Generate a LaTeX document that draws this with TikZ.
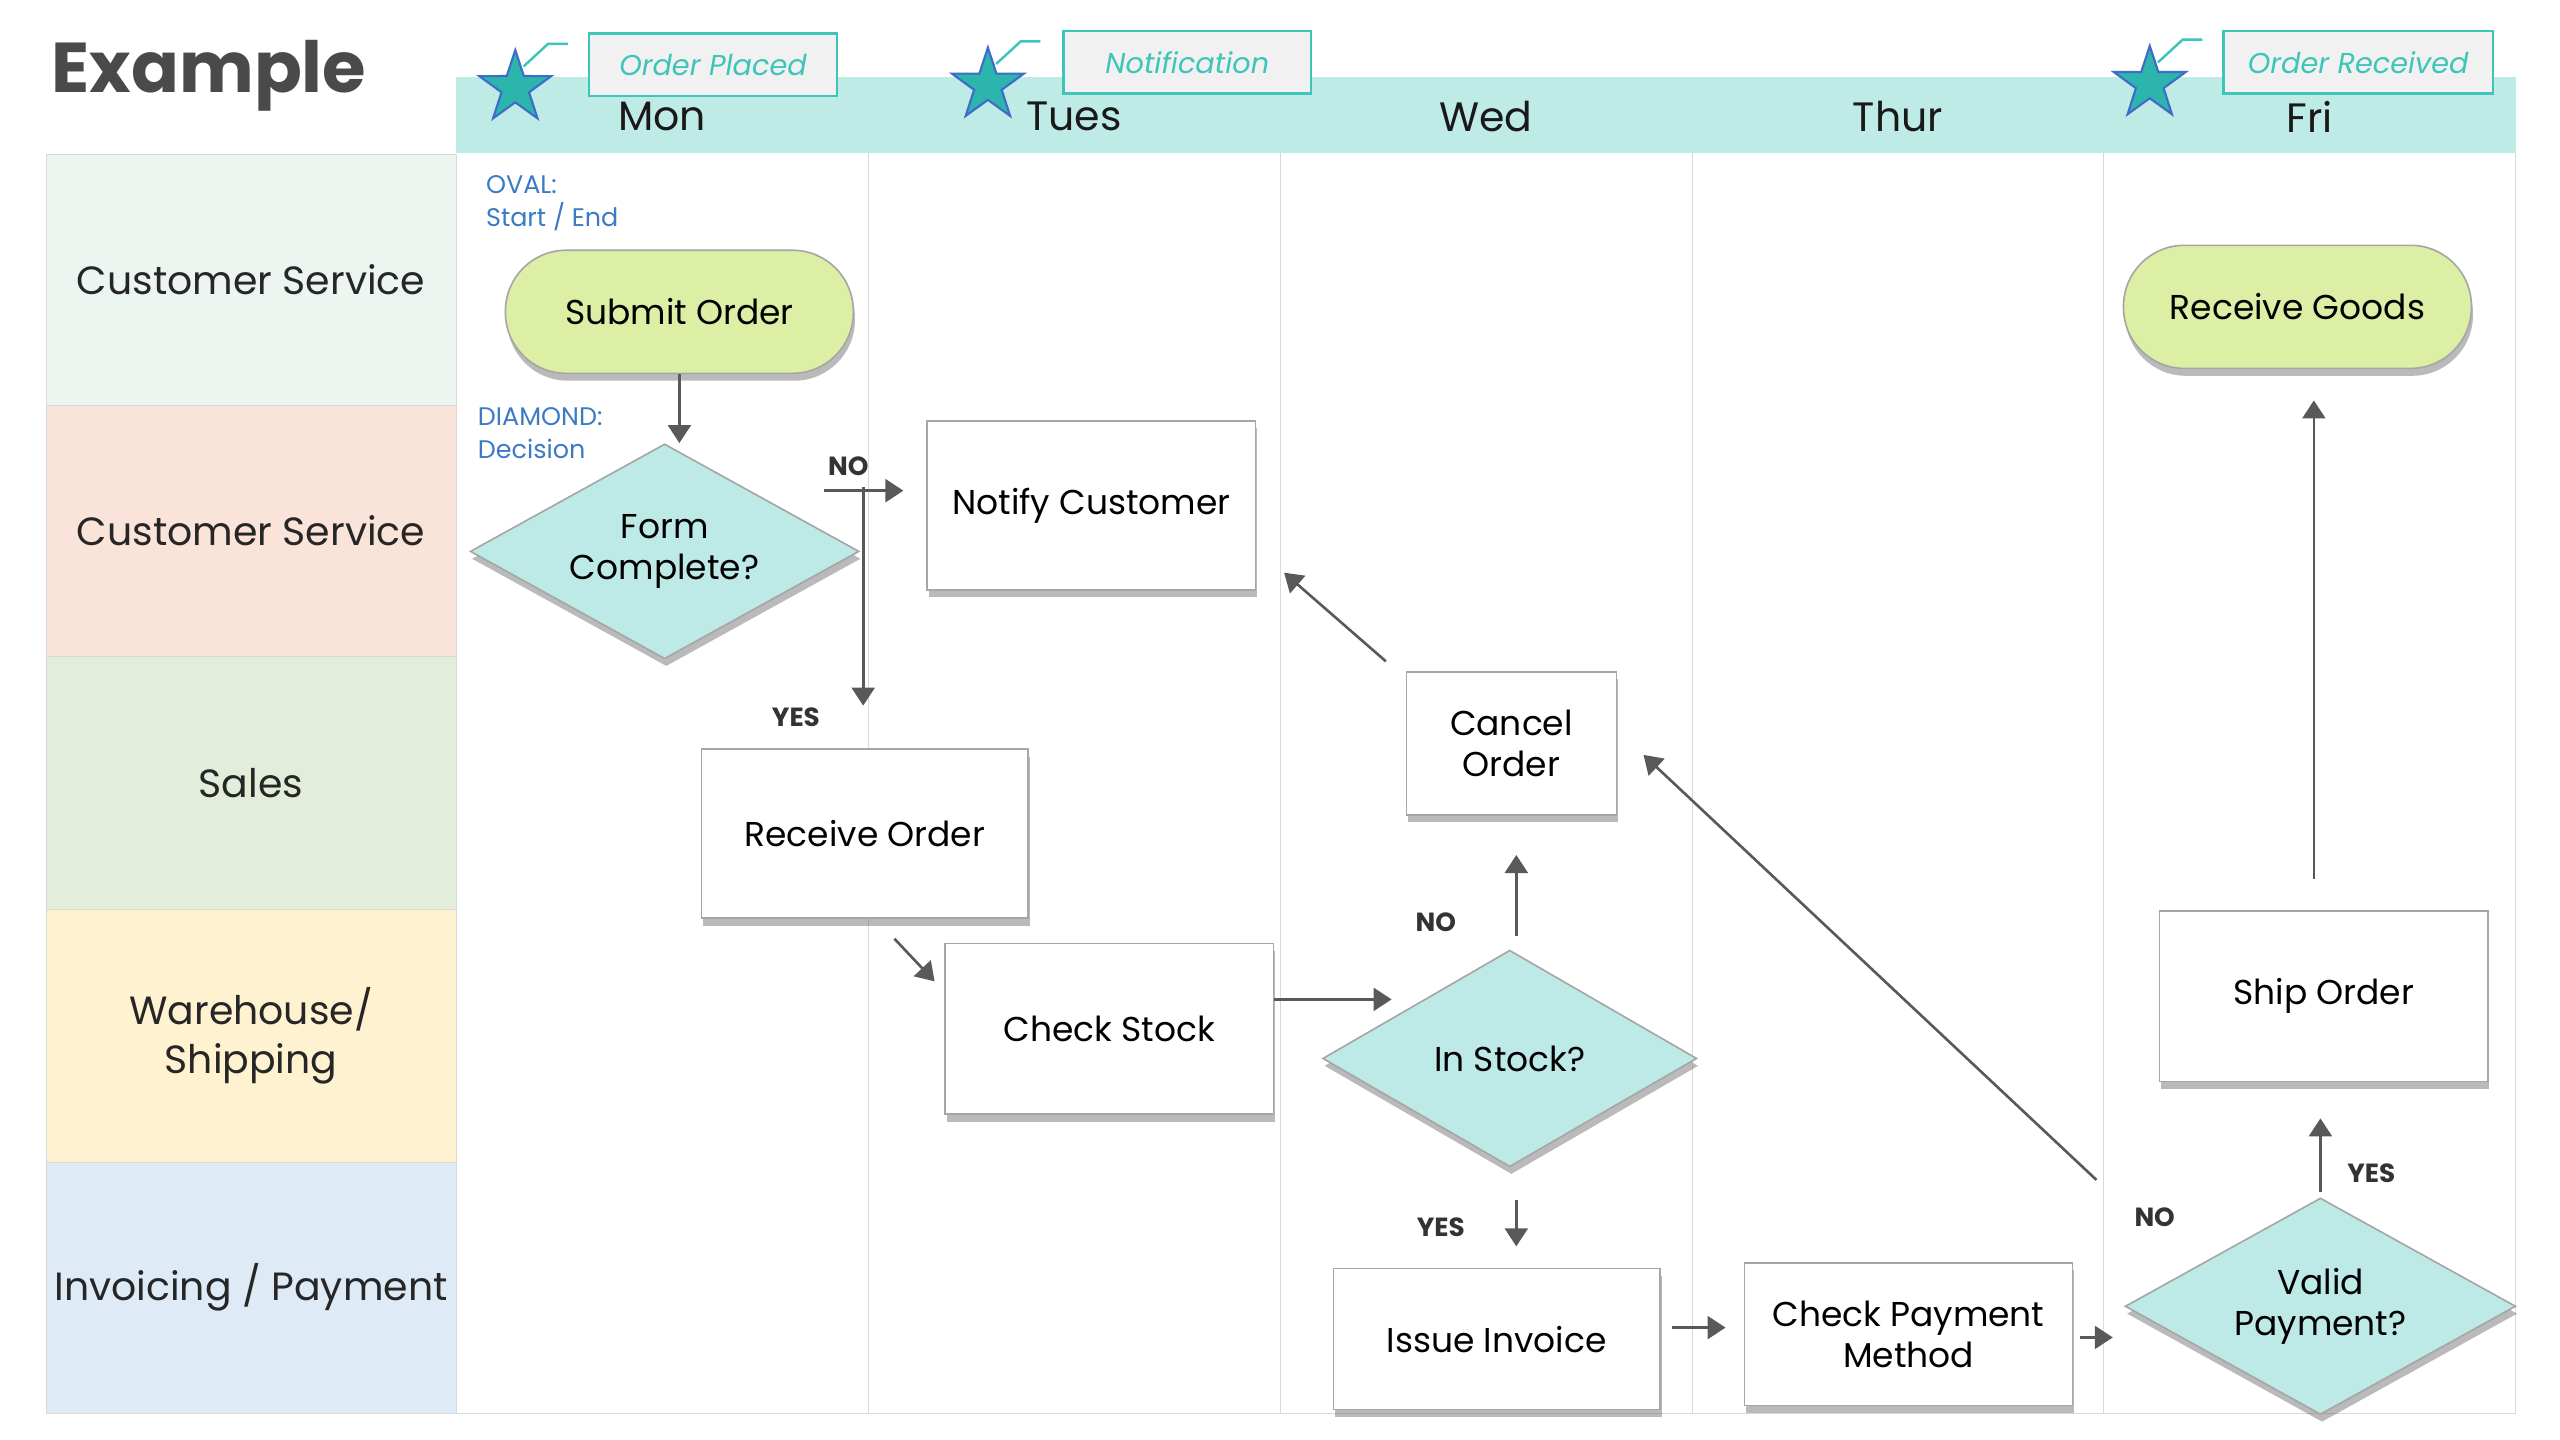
\documentclass[tikz,border=0pt]{standalone}
\usepackage{fontspec}
\setmainfont{Poppins}
\usetikzlibrary{shapes.geometric,arrows.meta,shadows}
\definecolor{headteal}{HTML}{BFEBE7}
\definecolor{laneA}{HTML}{EDF5F1}
\definecolor{laneB}{HTML}{FAE3D8}
\definecolor{laneC}{HTML}{E2EED9}
\definecolor{laneD}{HTML}{FEF2D0}
\definecolor{laneE}{HTML}{DEEAF5}
\definecolor{ovalgreen}{HTML}{DCEFA5}
\definecolor{diateal}{HTML}{BDEAE6}
\definecolor{arrowgray}{HTML}{595959}
\definecolor{noteblue}{HTML}{3B7BC4}
\definecolor{tagteal}{HTML}{3EC5BA}
\definecolor{taggray}{HTML}{F1F1F1}
\definecolor{starteal}{HTML}{2BB5AC}
\definecolor{starblue}{HTML}{3F6CC9}
\definecolor{titlegray}{HTML}{4A4A4A}

\begin{document}
\begin{tikzpicture}[x=1pt,y=-1pt,
  flowbox/.style={draw=black!35,line width=1pt,fill=white,minimum width=200pt,minimum height=103pt,
    inner sep=2pt,align=center,font=\fontsize{21}{25}\selectfont,
    drop shadow={shadow xshift=1pt,shadow yshift=-4.5pt,opacity=.45,fill=black!60}},
  oval/.style={flowbox,fill=ovalgreen,rounded corners=37pt,minimum width=212pt,minimum height=75pt},
  decision/.style={diamond,aspect=1.8,draw=black!35,line width=1pt,fill=diateal,inner sep=0pt,
    minimum width=237pt,minimum height=131pt,align=center,font=\fontsize{21}{25}\selectfont,
    drop shadow={shadow xshift=1pt,shadow yshift=-4.5pt,opacity=.45,fill=black!60}},
  lanelabel/.style={font=\fontsize{24}{30}\selectfont,align=center,text=black!85},
  daylabel/.style={font=\fontsize{25}{30}\selectfont,text=black!90},
  note/.style={font=\fontsize{15.5}{20}\selectfont,text=noteblue,align=left,anchor=north west,inner sep=0pt},
  answer/.style={font=\fontsize{16}{18}\selectfont\bfseries,text=black!80},
  tag/.style={draw=tagteal,line width=1.5pt,fill=taggray,minimum width=151pt,minimum height=38pt,
    font=\fontsize{17.5}{20}\selectfont\itshape,text=tagteal},
  starmark/.style={star,star points=5,star point ratio=2.6,minimum size=46pt,inner sep=0pt,
    fill=starteal,draw=starblue,line width=1.3pt},
  tagline/.style={draw=tagteal,line width=1.5pt},
  arr/.style={draw=arrowgray,line width=1.6pt,-{Triangle[length=11pt,width=14pt]}}]
\useasboundingbox (0,0) rectangle (1560,877.5);

% 标题
\node[font=\fontsize{43}{50}\selectfont\bfseries,text=titlegray,anchor=west] (title) at (28,46) {Example};

% 泳道标签
\draw[draw=black!15,fill=laneA] (28,94) rectangle (278,247);
\draw[draw=black!15,fill=laneB] (28,247) rectangle (278,400);
\draw[draw=black!15,fill=laneC] (28,400) rectangle (278,554);
\draw[draw=black!15,fill=laneD] (28,554) rectangle (278,708);
\draw[draw=black!15,fill=laneE] (28,708) rectangle (278,861);
\node[lanelabel] (laneCS) at (153,170.5) {Customer Service};
\node[lanelabel] (laneCSb) at (153,323.5) {Customer Service};
\node[lanelabel] (laneSales) at (153,477) {Sales};
\node[lanelabel] (laneWH) at (153,631) {Warehouse/\\Shipping};
\node[lanelabel] (laneInv) at (153,784.5) {Invoicing / Payment};

% 表头与日期列
\fill[headteal] (278,47) rectangle (1533,93.5);
\draw[black!15] (529,93.5) -- (529,861);
\draw[black!15] (780,93.5) -- (780,861);
\draw[black!15] (1031,93.5) -- (1031,861);
\draw[black!15] (1282,93.5) -- (1282,861);
\draw[black!15] (1533,93.5) -- (1533,861);
\draw[black!15] (28,861) -- (1533,861);
\node[daylabel] (mon) at (403.5,71) {Mon};
\node[daylabel] (tues) at (654.5,71) {Tues};
\node[daylabel] (wed) at (905.5,71) {Wed};
\node[daylabel] (thur) at (1156.5,71) {Thur};
\node[daylabel] (fri) at (1407.5,71) {Fri};

% 星形标记与说明框
\node[starmark] (starMon) at (314,53.5) {};
\draw[tagline] ([xshift=5pt,yshift=13pt]starMon.center) -- ++(15,-13.8) -- ++(12,0);
\node[tag] (tagMon) at (434.5,39.5) {Order Placed};
\node[starmark] (starTues) at (602,52) {};
\draw[tagline] ([xshift=5pt,yshift=13pt]starTues.center) -- ++(15,-13.8) -- ++(12,0);
\node[tag] (tagTues) at (723.5,38) {Notification};
\node[starmark] (starFri) at (1310,51) {};
\draw[tagline] ([xshift=5pt,yshift=13pt]starFri.center) -- ++(15,-13.8) -- ++(12,0);
\node[tag,minimum width=164pt] (tagFri) at (1437,38) {Order Received};

% 图例说明
\node[note] (noteOval) at (296,107) {OVAL:\\Start / End};
\node[note] (noteDiamond) at (291,248) {DIAMOND:\\Decision};

% 流程节点
\node[oval] (submit) at (414,190) {Submit Order};
\node[decision] (form) at (405,336) {Form\\Complete?};
\node[flowbox] (notify) at (665,308) {Notify Customer};
\node[flowbox,minimum width=199pt] (receive) at (527,508) {Receive Order};
\node[flowbox,minimum height=104pt] (check) at (676,627) {Check Stock};
\node[decision,minimum width=228pt,minimum height=132pt] (instock) at (920,645) {In Stock?};
\node[flowbox,minimum width=128pt,minimum height=87pt] (cancel) at (921,453) {Cancel\\Order};
\node[flowbox,minimum width=199pt,minimum height=86pt] (issue) at (912,816) {Issue Invoice};
\node[flowbox,minimum height=87pt] (checkpay) at (1163,813) {Check Payment\\Method};
\node[decision,minimum width=238pt,minimum height=132pt] (valid) at (1414,796) {Valid\\Payment?};
\node[flowbox,minimum height=104pt] (ship) at (1416,607) {Ship Order};
\node[oval] (goods) at (1400,187) {Receive Goods};

% 连线
\coordinate (noStart) at (502,299);
\coordinate (yesStart) at (526,297);
\coordinate (stockIn) at (848,609);
\draw[arr] (submit.south) -- (submit.south |- form.north);
\draw[arr,shorten >=14pt] (noStart) -- (noStart -| notify.west);
\draw[arr,shorten >=26pt] (yesStart) -- (yesStart |- receive.north);
\draw[arr] ([xshift=18pt,yshift=-12pt]receive.south) -- ([xshift=-6pt,yshift=29pt]check.west);
\draw[arr] (check.east |- stockIn) -- (stockIn);
\draw[arr,shorten <=8pt,shorten >=24pt] ([xshift=4pt]instock.north) -- ([xshift=4pt]instock.north |- cancel.south);
\draw[arr] ([xshift=-12pt,yshift=6pt]cancel.north west) -- ([xshift=17pt,yshift=11pt]notify.south east);
\draw[arr,shorten <=20pt,shorten >=13pt] ([xshift=4pt]instock.south) -- ([xshift=4pt]instock.south |- issue.north);
\draw[arr,shorten <=7pt,shorten >=11pt] ([yshift=7pt]issue.east) -- ([yshift=7pt]issue.east -| checkpay.west);
\draw[arr,shorten <=4pt,shorten >=7pt] ([yshift=-2pt]checkpay.east) -- ([yshift=-2pt]checkpay.east -| valid.west);
\draw[arr] ([xshift=-17pt,yshift=77pt]valid.west) -- ([xshift=16pt,yshift=-7pt]cancel.east);
\draw[arr,shorten <=3pt,shorten >=22pt] (valid.north) -- (valid.north |- ship.south);
\draw[arr,shorten <=19pt,shorten >=19pt] ([xshift=-6pt]ship.north) -- ([xshift=-6pt]ship.north |- goods.south);

% 判断标签
\node[answer] (no1) at (517,284) {NO};
\node[answer] (yes1) at (485,437) {YES};
\node[answer] (no2) at (875,562) {NO};
\node[answer] (yes2) at (878,748) {YES};
\node[answer] (no3) at (1313,742) {NO};
\node[answer] (yes3) at (1445,715) {YES};
\end{tikzpicture}
\end{document}
